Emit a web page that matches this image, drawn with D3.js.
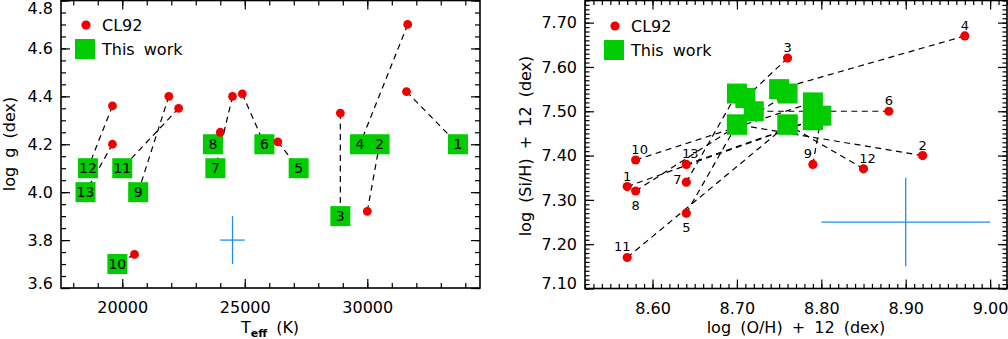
<!DOCTYPE html>
<html><head><meta charset="utf-8">
<script src="https://cdn.jsdelivr.net/npm/d3@7"></script>
<style>body{margin:0;background:#fff} svg{display:block} text{font-family:"DejaVu Sans",sans-serif}</style>
</head><body><svg id="c" width="1008" height="339"></svg>
<script>
// ---------- data ----------
const starIds = ["1","2","3","4","5","6","7","8","9","10","11","12","13"];
// Left panel: Teff / log g
const clTeff = [31600, 30000, 28900, 31650, 26350, 24900, 24500, 24000, 21900, 20500, 22300, 19600, 19600];
const clLogg = [4.42, 3.92, 4.33, 4.70, 4.21, 4.41, 4.40, 4.25, 4.40, 3.74, 4.35, 4.36, 4.20];
const twTeff = [33700, 30500, 28900, 29700, 27200, 25800, 23800, 23700, 20650, 19800, 20000, 18600, 18500];
const twLogg = [4.20, 4.20, 3.90, 4.20, 4.10, 4.20, 4.10, 4.20, 4.00, 3.70, 4.10, 4.10, 4.00];
// Right panel: log(O/H)+12 / log(Si/H)+12
const clOH  = [8.57, 8.92, 8.76, 8.97, 8.64, 8.88, 8.64, 8.58, 8.79, 8.58, 8.57, 8.85, 8.64];
const clSiH = [7.33, 7.40, 7.62, 7.67, 7.27, 7.50, 7.34, 7.32, 7.38, 7.39, 7.17, 7.37, 7.38];
const twOH  = [8.79, 8.70, 8.71, 8.75, 8.70, 8.72, 8.70, 8.76, 8.80, 8.79, 8.76, 8.76, 8.79];
const twSiH = [7.48, 7.47, 7.53, 7.55, 7.47, 7.50, 7.54, 7.54, 7.49, 7.52, 7.47, 7.47, 7.48];
const labelSide = ["n","n","n","n","s","n","w","s","nw","ne","nw","ne","ne"];
// tick labels
const teffTicks = [20000, 25000, 30000];
const loggTicks = [3.6, 3.8, 4.0, 4.2, 4.4, 4.6, 4.8];
const ohTicks = [8.60, 8.70, 8.80, 8.90, 9.00];
const sihTicks = [7.10, 7.20, 7.30, 7.40, 7.50, 7.60, 7.70];
// typical error bars [x, y, dx, dy]
const errLeft = [24500, 3.80, 500, 0.10];
const errRight = [8.90, 7.25, 0.10, 0.10];
const legendLabels = ["CL92", "This work"];

// ---------- drawing ----------
const FONT = '"DejaVu Sans", sans-serif';
const RED = "#ee0000", GREEN = "#00cc00", BLUE = "#1e8fe6";
const svg = d3.select("#c");

function axisStyle(sel) {
  sel.attr("font-family", null).attr("font-size", null);
  sel.select(".domain").remove();
  sel.selectAll(".tick line").attr("stroke", "#000").attr("stroke-width", 1.2);
  sel.selectAll(".tick text").attr("fill", "#000").style("font-family", FONT).style("font-size", "16px");
}

function drawAxes(g, x, y, o) {
  const [left, right] = x.range();
  const [bottom, top] = y.range();
  g.append("g").attr("transform", `translate(0,${bottom})`)
    .call(d3.axisBottom(x).tickValues(o.xMajor).tickSize(-o.majorLen).tickSizeOuter(0).tickPadding(14).tickFormat(o.xFmt)).call(axisStyle);
  g.append("g").attr("transform", `translate(0,${bottom})`)
    .call(d3.axisBottom(x).tickValues(o.xMinor).tickSize(-o.minorLen).tickSizeOuter(0).tickFormat("")).call(axisStyle);
  g.append("g").attr("transform", `translate(0,${top})`)
    .call(d3.axisTop(x).tickValues(o.xMajor).tickSize(-o.majorLen).tickSizeOuter(0).tickFormat("")).call(axisStyle);
  g.append("g").attr("transform", `translate(0,${top})`)
    .call(d3.axisTop(x).tickValues(o.xMinor).tickSize(-o.minorLen).tickSizeOuter(0).tickFormat("")).call(axisStyle);
  const ly = g.append("g").attr("transform", `translate(${left},0)`)
    .call(d3.axisLeft(y).tickValues(o.yMajor).tickSize(-o.majorLen).tickSizeOuter(0).tickPadding(8).tickFormat(o.yFmt)).call(axisStyle);
  ly.selectAll(".tick text").attr("y", d => Math.max(8 - y(d), Math.min(283 - y(d), 0)));
  g.append("g").attr("transform", `translate(${left},0)`)
    .call(d3.axisLeft(y).tickValues(o.yMinor).tickSize(-o.minorLen).tickSizeOuter(0).tickFormat("")).call(axisStyle);
  g.append("g").attr("transform", `translate(${right},0)`)
    .call(d3.axisRight(y).tickValues(o.yMajor).tickSize(-o.majorLen).tickSizeOuter(0).tickFormat("")).call(axisStyle);
  g.append("g").attr("transform", `translate(${right},0)`)
    .call(d3.axisRight(y).tickValues(o.yMinor).tickSize(-o.minorLen).tickSizeOuter(0).tickFormat("")).call(axisStyle);
  g.append("rect").attr("x", left).attr("y", top).attr("width", right - left).attr("height", bottom - top)
    .attr("fill", "none").attr("stroke", "#000").attr("stroke-width", 1.6);
}

function drawCross(g, x, y, e) {
  g.append("line").attr("x1", x(e[0] - e[2])).attr("x2", x(e[0] + e[2])).attr("y1", y(e[1])).attr("y2", y(e[1]))
    .attr("stroke", BLUE).attr("stroke-width", 1.3);
  g.append("line").attr("x1", x(e[0])).attr("x2", x(e[0])).attr("y1", y(e[1] - e[3])).attr("y2", y(e[1] + e[3]))
    .attr("stroke", BLUE).attr("stroke-width", 1.3);
}

function drawLegend(g, px, py) {
  g.append("circle").attr("cx", px + 11).attr("cy", py + 1).attr("r", 4.6).attr("fill", RED);
  g.append("text").attr("x", px + 27).attr("y", py + 6.5).style("font-size", "16px").text(legendLabels[0]);
  g.append("rect").attr("x", px).attr("y", py + 15).attr("width", 20).attr("height", 20).attr("fill", GREEN);
  g.append("text").attr("x", px + 27).attr("y", py + 30.5).style("font-size", "16px").style("word-spacing", "4px").text(legendLabels[1]);
}

// ----- left panel -----
const xL = d3.scaleLinear().domain([17500, 34600]).range([61, 480]);
const yL = d3.scaleLinear().domain([3.6, 4.8]).range([288, 0.5]);
const gL = svg.append("g");
drawCross(gL, xL, yL, errLeft);
gL.selectAll("line.conn").data(starIds).join("line").attr("class", "conn")
  .attr("x1", (d, i) => xL(clTeff[i])).attr("y1", (d, i) => yL(clLogg[i]))
  .attr("x2", (d, i) => xL(twTeff[i])).attr("y2", (d, i) => yL(twLogg[i]))
  .attr("stroke", "#000").attr("stroke-width", 1.2).attr("stroke-dasharray", "6,4.5");
gL.selectAll("rect.tw").data(starIds).join("rect").attr("class", "tw")
  .attr("x", (d, i) => xL(twTeff[i]) - 10).attr("y", (d, i) => yL(twLogg[i]) - 10)
  .attr("width", 20).attr("height", 20).attr("fill", GREEN);
gL.selectAll("text.twl").data(starIds).join("text").attr("class", "twl")
  .attr("x", (d, i) => xL(twTeff[i])).attr("y", (d, i) => yL(twLogg[i]) + 5)
  .attr("text-anchor", "middle").style("font-size", "14px").text(d => d);
gL.selectAll("circle.cl").data(starIds).join("circle").attr("class", "cl")
  .attr("cx", (d, i) => xL(clTeff[i])).attr("cy", (d, i) => yL(clLogg[i])).attr("r", 4.4).attr("fill", RED);
drawAxes(gL, xL, yL, {
  xMajor: teffTicks, xMinor: xL.ticks(17), yMajor: loggTicks, yMinor: yL.ticks(24),
  xFmt: d3.format("d"), yFmt: d3.format(".1f"), majorLen: 9, minorLen: 5
});
drawLegend(gL, 75, 24);
gL.append("text").attr("transform", "translate(14.5,144) rotate(-90)").attr("text-anchor", "middle")
  .style("font-size", "16px").style("word-spacing", "4px").text("log g (dex)");
const tl = gL.append("text").attr("x", 270).attr("y", 333).attr("text-anchor", "middle").style("font-size", "16px");
tl.append("tspan").text("T");
tl.append("tspan").attr("dy", 4).style("font-size", "11px").style("font-weight", "bold").text("eff");
tl.append("tspan").attr("dy", -4).style("word-spacing", "4px").text(" (K)");

// ----- right panel -----
const xR = d3.scaleLinear().domain([8.52, 9.02]).range([585, 1007]);
const yR = d3.scaleLinear().domain([7.10, 7.75]).range([288.5, 0.5]);
const gR = svg.append("g");
drawCross(gR, xR, yR, errRight);
gR.selectAll("line.conn").data(starIds).join("line").attr("class", "conn")
  .attr("x1", (d, i) => xR(clOH[i])).attr("y1", (d, i) => yR(clSiH[i]))
  .attr("x2", (d, i) => xR(twOH[i])).attr("y2", (d, i) => yR(twSiH[i]))
  .attr("stroke", "#000").attr("stroke-width", 1.2).attr("stroke-dasharray", "6,4.5");
gR.selectAll("rect.tw").data(starIds).join("rect").attr("class", "tw")
  .attr("x", (d, i) => xR(twOH[i]) - 10).attr("y", (d, i) => yR(twSiH[i]) - 10)
  .attr("width", 20).attr("height", 20).attr("fill", GREEN);
gR.selectAll("circle.cl").data(starIds).join("circle").attr("class", "cl")
  .attr("cx", (d, i) => xR(clOH[i])).attr("cy", (d, i) => yR(clSiH[i])).attr("r", 4.6).attr("fill", RED);
const off = { n: [0, -6], ne: [4, -6], nw: [-5, -6], s: [0, 18.5], w: [-9, 2] };
gR.selectAll("text.cll").data(starIds).join("text").attr("class", "cll")
  .attr("x", (d, i) => xR(clOH[i]) + off[labelSide[i]][0]).attr("y", (d, i) => yR(clSiH[i]) + off[labelSide[i]][1])
  .attr("text-anchor", "middle").style("font-size", "13px").text(d => d);
drawAxes(gR, xR, yR, {
  xMajor: ohTicks, xMinor: xR.ticks(50), yMajor: sihTicks, yMinor: yR.ticks(65),
  xFmt: d3.format(".2f"), yFmt: d3.format(".2f"), majorLen: 9, minorLen: 4.5
});
drawLegend(gR, 604, 25);
gR.append("text").attr("transform", "translate(531,146) rotate(-90)").attr("text-anchor", "middle")
  .style("font-size", "16px").style("word-spacing", "4px").text("log (Si/H) + 12 (dex)");
gR.append("text").attr("x", 796).attr("y", 333).attr("text-anchor", "middle")
  .style("font-size", "16px").style("word-spacing", "4px").text("log (O/H) + 12 (dex)");
</script></body></html>
